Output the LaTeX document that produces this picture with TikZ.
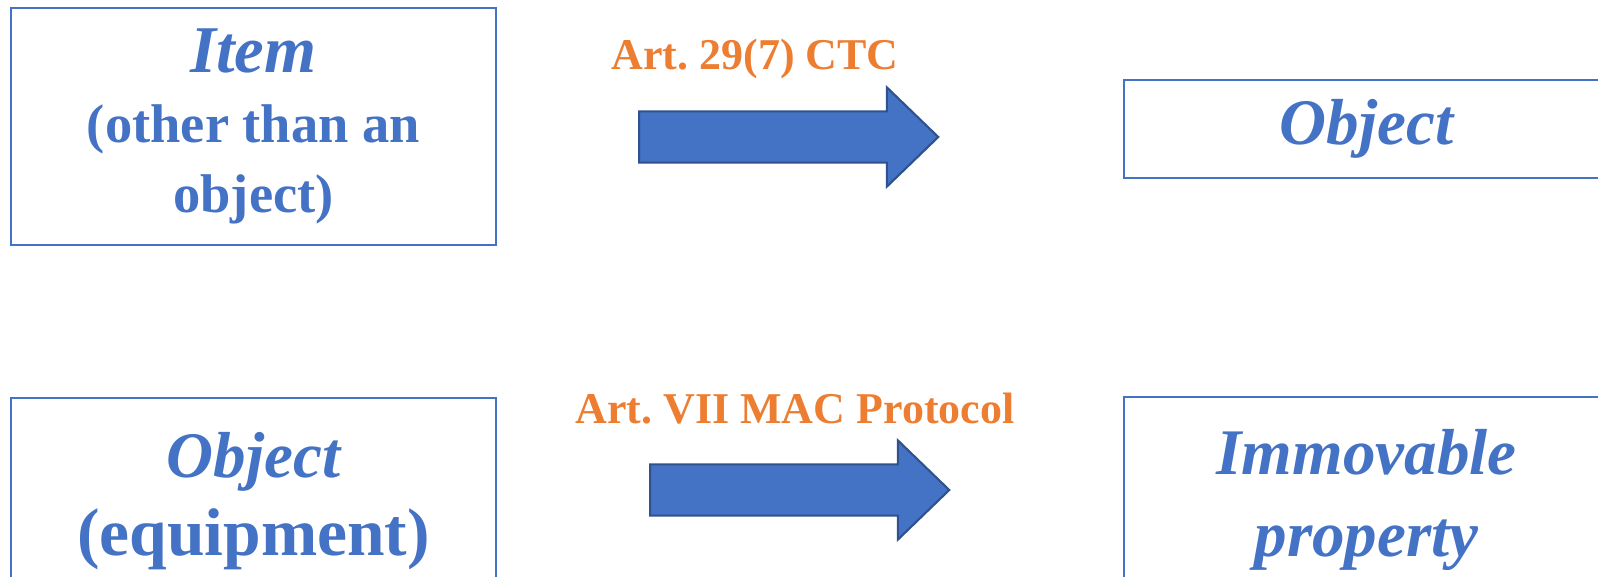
\documentclass[tikz,border=0pt]{standalone}
\usepackage{fontspec}
\setmainfont{Liberation Serif}
\usetikzlibrary{positioning, shapes.arrows}
\definecolor{boxblue}{HTML}{4472C4}
\definecolor{arrowedge}{HTML}{2F528F}
\definecolor{laworange}{HTML}{ED7D31}
\frenchspacing

\begin{document}
\begin{tikzpicture}[
  x=0.01cm, y=-0.01cm,
  box/.style={draw=boxblue, line width=0.5pt, text=boxblue,
    align=center, minimum width=4.85cm, inner sep=0pt},
  blockarrow/.style={single arrow, draw=arrowedge, fill=boxblue, line width=0.6pt,
    minimum height=2.99cm, inner sep=0.245cm, single arrow head extend=0.24cm,
    single arrow tip angle=88, single arrow head indent=0pt},
  lawtext/.style={text=laworange, font=\bfseries\fontsize{12.5}{15}\selectfont}
]
\useasboundingbox (0,0) rectangle (1598,576);
\clip (0,0) rectangle (1598,576);

% boxes
\node[box, minimum height=2.37cm, font=\bfseries\fontsize{15.5}{20}\selectfont]
  (item) at (253.5,126.5)
  {{\fontsize{19}{20}\selectfont\itshape Item}\\(other than an\\object)};
\node[box, minimum height=0.98cm, font=\bfseries\itshape\fontsize{18.5}{22}\selectfont]
  (objtop) at (1366.5,129) {Object};
\node[box, minimum height=2.06cm, font=\bfseries\fontsize{19.2}{22.4}\selectfont]
  (objbot) at (253.5,501)
  {{\fontsize{18.5}{22.4}\selectfont\itshape Object}\\(equipment)};
\node[box, minimum height=2.06cm, font=\bfseries\itshape\fontsize{18.5}{23.3}\selectfont]
  (immov) at (1366.5,500) {Immovable\\property};

% arrows
\node[blockarrow, anchor=tail] (ctc) at (638,137) {};
\node[lawtext, anchor=base] (ctclbl) at (755,70) {Art. 29(7) CTC};
\node[blockarrow, anchor=tail] (mac) at (649,490) {};
\node[lawtext, anchor=base] (maclbl) at (795,423) {Art. VII MAC Protocol};
\end{tikzpicture}
\end{document}
